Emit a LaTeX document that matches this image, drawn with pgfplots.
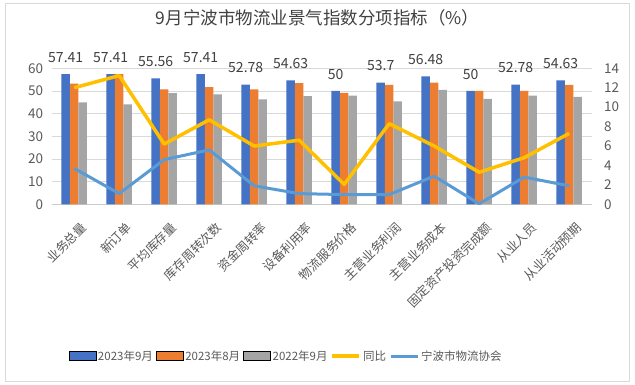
\documentclass[border=0pt]{standalone}
\usepackage{pgfplots}
\pgfplotsset{compat=1.18}
\usepackage{fontspec}
\setmainfont{Noto Sans CJK SC}
\definecolor{c1}{HTML}{4472C4}
\definecolor{c2}{HTML}{ED7D31}
\definecolor{c3}{HTML}{A5A5A5}
\definecolor{c4}{HTML}{FFC000}
\definecolor{c5}{HTML}{5B9BD5}
\definecolor{txt}{HTML}{595959}
\pgfplotsset{
  /pgf/number format/assume math mode=true,
  barleg/.style={legend image code/.code={\fill[##1] (0pt,-4.5pt) rectangle (27pt,4.5pt);}},
  lineleg/.style={legend image code/.code={\draw[##1] (0pt,0pt) -- (27pt,0pt);}},
}
\begin{document}
\begin{tikzpicture}
\useasboundingbox (0pt,0pt) rectangle (635pt,384pt);
\draw[black!15] (5.5pt,3pt) rectangle (629.5pt,381pt);
\node[font=\fontsize{17.5}{20}\selectfont, text=black!75] at (317.5pt,366pt) {9月宁波市物流业景气指数分项指标（\%）};
\begin{axis}[
  at={(51.7pt,179.7pt)}, anchor=south west, scale only axis,
  width=540pt, height=136pt,
  ymin=0, ymax=60, ytick={0,10,...,60},
  xmin=-0.5, xmax=11.5, xtick={0,...,11},
  xticklabels={业务总量,新订单,平均库存量,库存周转次数,资金周转率,设备利用率,物流服务价格,主营业务利润,主营业务成本,固定资产投资完成额,从业人员,从业活动预期},
  x tick label style={xshift=6pt, yshift=-15pt, rotate=45, anchor=north east, font=\fontsize{12.5}{14}\selectfont, text=txt, inner sep=1pt},
  y tick label style={font=\fontsize{13.5}{15}\selectfont, text=txt, xshift=-5pt},
  ybar=0pt, bar width=8.5pt,
  axis lines*=left,
  y axis line style={draw=none},
  x axis line style={black!20, -},
  major tick length=0pt,
  ymajorgrids, grid style={black!15, line width=0.8pt},
  nodes near coords style={font=\fontsize{14}{16}\selectfont, text=black!75},
]
\addplot[fill=c1, draw=none, nodes near coords, every node near coord/.append style={yshift=8pt}] coordinates {(0,57.41) (1,57.41) (2,55.56) (3,57.41) (4,52.78) (5,54.63) (6,50) (7,53.7) (8,56.48) (9,50) (10,52.78) (11,54.63)};
\addplot[fill=c2, draw=none] coordinates {(0,53.2) (1,57.4) (2,50.7) (3,51.7) (4,50.7) (5,53.5) (6,49.2) (7,52.7) (8,53.7) (9,50) (10,50) (11,52.7)};
\addplot[fill=c3, draw=none] coordinates {(0,45.0) (1,44.1) (2,49.1) (3,48.5) (4,46.3) (5,47.7) (6,47.9) (7,45.4) (8,50.5) (9,46.5) (10,47.9) (11,47.4)};
\end{axis}
\begin{axis}[
  at={(51.7pt,179.7pt)}, anchor=south west, scale only axis,
  width=540pt, height=136pt,
  ymin=0, ymax=14, ytick={0,2,...,14},
  xmin=-0.5, xmax=11.5,
  axis y line*=right, axis x line=none,
  y axis line style={draw=none},
  major tick length=0pt,
  y tick label style={font=\fontsize{13.5}{15}\selectfont, text=txt, xshift=9pt},
  legend style={at={(0.434,-1.116)}, anchor=center, draw=none, fill=none, legend columns=-1,
    font=\fontsize{11.5}{13}\selectfont, text=txt,
    /tikz/every even column/.append style={column sep=1pt}},
]
\addlegendimage{barleg, fill=c1}
\addlegendentry{2023年9月}
\addlegendimage{barleg, fill=c2}
\addlegendentry{2023年8月}
\addlegendimage{barleg, fill=c3}
\addlegendentry{2022年9月}
\addplot[lineleg, color=c4, line width=3.5pt, line join=round] coordinates {(0,12.0) (1,13.25) (2,6.2) (3,8.7) (4,6.0) (5,6.6) (6,2.05) (7,8.3) (8,6.0) (9,3.3) (10,4.8) (11,7.3)};
\addlegendentry{同比}
\addplot[lineleg, color=c5, line width=3pt, line join=round] coordinates {(0,3.7) (1,1.1) (2,4.6) (3,5.6) (4,1.9) (5,1.1) (6,1.0) (7,1.0) (8,2.9) (9,0.05) (10,2.8) (11,1.9)};
\addlegendentry{宁波市物流协会}
\end{axis}
\end{tikzpicture}
\end{document}
